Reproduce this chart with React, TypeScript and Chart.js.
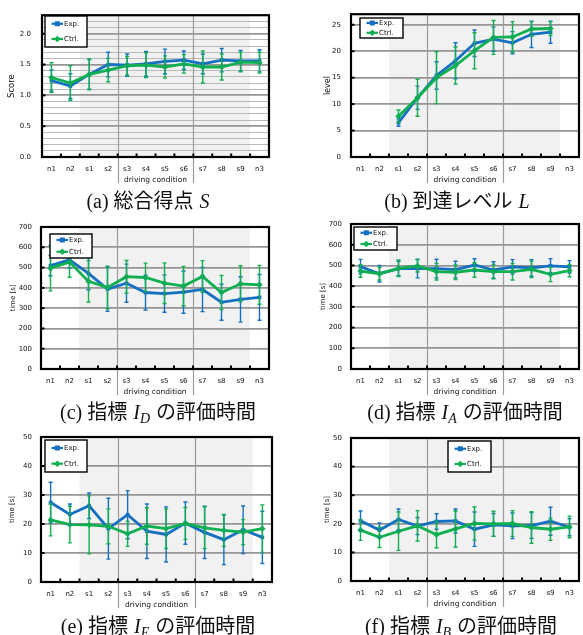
import React, { useEffect, useRef } from 'react';
import { Chart, registerables } from 'chart.js';

Chart.register(...registerables);

const W = 583;
const H = 635;

// ---------- data ----------
const conditions = ['n1', 'n2', 's1', 's2', 's3', 's4', 's5', 's6', 's7', 's8', 's9', 'n3'];
const shadeFrom = 's1';
const shadeTo = 's9';
const groupStarts = ['s3', 's7'];
const seriesNames = ['Exp.', 'Ctrl.'];
const xTitle = 'driving condition';

const scoreExp = [1.24, 1.15, 1.34, 1.5, 1.49, 1.51, 1.55, 1.57, 1.51, 1.57, 1.56, 1.56];
const scoreExpErr = [0.17, 0.2, 0.24, 0.2, 0.18, 0.2, 0.2, 0.15, 0.16, 0.19, 0.17, 0.18];
const scoreCtrl = [1.29, 1.2, 1.34, 1.41, 1.48, 1.49, 1.46, 1.51, 1.46, 1.46, 1.54, 1.53];
const scoreCtrlErr = [0.24, 0.28, 0.25, 0.19, 0.15, 0.2, 0.18, 0.15, 0.26, 0.21, 0.16, 0.17];

const levelExp = [null, null, 6.5, 11.2, 15.4, 18.2, 21.5, 22.3, 21.6, 23.2, 23.6, null];
const levelExpErr = [0, 0, 0.7, 2.2, 2.6, 3.4, 2.5, 2.3, 2.1, 2.5, 2.1, 0];
const levelCtrl = [null, null, 7.7, 11.2, 15.0, 17.3, 20.1, 22.6, 22.7, 24.2, 24.3, null];
const levelCtrlErr = [0, 0, 1.2, 3.5, 4.9, 3.5, 3.4, 3.2, 2.9, 1.4, 1.3, 0];

const idExp = [510, 538, 471, 394, 423, 377, 372, 379, 392, 329, 343, 353];
const idExpErr = [50, 40, 80, 110, 94, 86, 92, 104, 109, 89, 112, 113];
const idCtrl = [497, 527, 432, 402, 455, 451, 423, 409, 456, 377, 420, 415];
const idCtrlErr = [112, 75, 102, 105, 80, 71, 100, 97, 78, 84, 89, 96];

const iaExp = [494, 460, 485, 485, 485, 480, 502, 478, 493, 488, 498, 493];
const iaExpErr = [35, 40, 35, 45, 45, 40, 30, 40, 35, 40, 35, 30];
const iaCtrl = [473, 460, 486, 498, 470, 467, 478, 470, 470, 481, 457, 475];
const iaCtrlErr = [30, 30, 40, 30, 40, 35, 35, 35, 40, 40, 35, 30];

const ieExp = [27.4, 23.3, 26.3, 18.4, 23.2, 17.5, 16.4, 20.3, 17.1, 14.6, 18.0, 15.4];
const ieExpErr = [7, 3.6, 4.4, 10.5, 8.3, 9.4, 9.5, 7.3, 9, 8.6, 8.2, 9];
const ieCtrl = [21.4, 19.8, 19.7, 19.2, 16.6, 19.3, 18.4, 20.2, 18.7, 17.8, 17.2, 18.4];
const ieCtrlErr = [5.5, 6.3, 10, 6, 4.3, 6.3, 6.8, 5.5, 7.2, 5.5, 4.3, 8.2];

const ibExp = [21.1, 17.8, 21.5, 19.2, 20.8, 21.0, 18.1, 19.6, 19.3, 19.4, 20.9, 18.8];
const ibExpErr = [3.4, 2.5, 3.7, 3, 2.7, 4.2, 6, 4, 4.5, 4.5, 4.9, 3];
const ibCtrl = [17.8, 15.3, 17.4, 19.3, 16.2, 18.2, 20.1, 20.0, 20.1, 18.7, 18.1, 18.9];
const ibCtrlErr = [3.6, 3.6, 6.7, 5.3, 4.6, 6.3, 5.8, 4.4, 4.5, 5.5, 3.9, 3.8];

const captionTags = ['(a)', '(b)', '(c)', '(d)', '(e)', '(f)'];
const captionPre = ['総合得点', '到達レベル', '指標', '指標', '指標', '指標'];
const captionSym = ['S', 'L', 'I', 'I', 'I', 'I'];
const captionSub = ['', '', 'D', 'A', 'E', 'B'];
const captionPost = ['', '', 'の評価時間', 'の評価時間', 'の評価時間', 'の評価時間'];

// ---------- styles / layout ----------
const BLUE = '#1470c0';
const GREEN = '#10b050';
const FONT = '"DejaVu Sans", "Noto Sans", sans-serif';
const TEXT = '#111';
const XH = 30;

type Box = { l: number; t: number; r: number; b: number };
type Panel = {
  id: string;
  exp: (number | null)[];
  expErr: number[];
  ctrl: (number | null)[];
  ctrlErr: number[];
  yMax: number;
  yStep: number;
  yLabelStep: number;
  decimals: number;
  yTitle: string;
  yTitleSize: number;
  yTitleX: number;
  yPad: number;
  box: Box;
  legend: { x: number; y: number; w: number; h: number };
};

const panels: Panel[] = [
  {
    id: 'a', exp: scoreExp, expErr: scoreExpErr, ctrl: scoreCtrl, ctrlErr: scoreCtrlErr,
    yMax: 2.3, yStep: 0.1, yLabelStep: 0.5, decimals: 1, yTitle: 'Score', yTitleSize: 8.5, yTitleX: 12, yPad: 11,
    box: { l: 42, t: 13, r: 269, b: 157 }, legend: { x: 45, y: 16, w: 42, h: 31 },
  },
  {
    id: 'b', exp: levelExp, expErr: levelExpErr, ctrl: levelCtrl, ctrlErr: levelCtrlErr,
    yMax: 27, yStep: 5, yLabelStep: 5, decimals: 0, yTitle: 'level', yTitleSize: 8, yTitleX: 328, yPad: 10,
    box: { l: 351, t: 13, r: 582, b: 157 }, legend: { x: 360, y: 18, w: 43, h: 20 },
  },
  {
    id: 'c', exp: idExp, expErr: idExpErr, ctrl: idCtrl, ctrlErr: idCtrlErr,
    yMax: 700, yStep: 100, yLabelStep: 100, decimals: 0, yTitle: 'time [s]', yTitleSize: 7, yTitleX: 13, yPad: 9,
    box: { l: 41, t: 227, r: 269, b: 369 }, legend: { x: 50, y: 234, w: 42, h: 24 },
  },
  {
    id: 'd', exp: iaExp, expErr: iaExpErr, ctrl: iaCtrl, ctrlErr: iaCtrlErr,
    yMax: 700, yStep: 100, yLabelStep: 100, decimals: 0, yTitle: 'time [s]', yTitleSize: 7, yTitleX: 323, yPad: 9,
    box: { l: 351, t: 224, r: 582, b: 369 }, legend: { x: 354, y: 227, w: 43, h: 23 },
  },
  {
    id: 'e', exp: ieExp, expErr: ieExpErr, ctrl: ieCtrl, ctrlErr: ieCtrlErr,
    yMax: 50, yStep: 10, yLabelStep: 10, decimals: 0, yTitle: 'time [s]', yTitleSize: 7, yTitleX: 12, yPad: 9,
    box: { l: 41, t: 437, r: 272, b: 582 }, legend: { x: 45, y: 440, w: 42, h: 32 },
  },
  {
    id: 'f', exp: ibExp, expErr: ibExpErr, ctrl: ibCtrl, ctrlErr: ibCtrlErr,
    yMax: 50, yStep: 10, yLabelStep: 10, decimals: 0, yTitle: 'time [s]', yTitleSize: 7, yTitleX: 327, yPad: 9,
    box: { l: 351, t: 438, r: 582, b: 581 }, legend: { x: 448, y: 441, w: 43, h: 31 },
  },
];

const captionPos = [
  { cx: 148, cy: 201 },
  { cx: 457, cy: 201 },
  { cx: 158, cy: 412 },
  { cx: 465, cy: 412 },
  { cx: 158, cy: 626 },
  { cx: 461, cy: 626 },
];

function isMajor(p: Panel, v: number) {
  const q = v / p.yLabelStep;
  return Math.abs(q - Math.round(q)) < 1e-6;
}

function drawMarker(ctx: CanvasRenderingContext2D, kind: number, x: number, y: number) {
  ctx.beginPath();
  if (kind === 0) {
    ctx.rect(x - 2.5, y - 2.5, 5, 5);
  } else {
    ctx.moveTo(x, y - 3.3);
    ctx.lineTo(x + 3.3, y);
    ctx.lineTo(x, y + 3.3);
    ctx.lineTo(x - 3.3, y);
    ctx.closePath();
  }
  ctx.fill();
}

function makeDecor(p: Panel) {
  const n = conditions.length;
  const edge = (chart: any, i: number) => {
    const a = chart.chartArea;
    const x = chart.scales.x;
    if (i <= 0) return a.left;
    if (i >= n) return a.right;
    return (x.getPixelForTick(i - 1) + x.getPixelForTick(i)) / 2;
  };
  return {
    id: 'decor_' + p.id,
    beforeDraw(chart: any) {
      const { ctx, chartArea: a } = chart;
      const i0 = conditions.indexOf(shadeFrom);
      const i1 = conditions.indexOf(shadeTo) + 1;
      const xs = edge(chart, i0);
      const xe = edge(chart, i1);
      ctx.save();
      ctx.fillStyle = '#f1f1f1';
      ctx.fillRect(xs, a.top, xe - xs, a.bottom - a.top);
      ctx.restore();
    },
    beforeDatasetsDraw(chart: any) {
      const { ctx, chartArea: a } = chart;
      ctx.save();
      ctx.strokeStyle = '#9c9c9c';
      ctx.lineWidth = 1.2;
      groupStarts.forEach((name) => {
        const xx = Math.round(edge(chart, conditions.indexOf(name))) + 0.5;
        ctx.beginPath();
        ctx.moveTo(xx, a.top);
        ctx.lineTo(xx, a.bottom + 26);
        ctx.stroke();
      });
      ctx.restore();
    },
    afterDatasetsDraw(chart: any) {
      const { ctx, chartArea: a, scales } = chart;
      const y = scales.y;
      ctx.save();
      // error bars
      [0, 1].forEach((di) => {
        const ds = chart.data.datasets[di];
        const meta = chart.getDatasetMeta(di);
        const errs: number[] = ds.errors;
        ctx.strokeStyle = ds.borderColor;
        ctx.lineWidth = 1.4;
        ds.data.forEach((v: number | null, i: number) => {
          if (v == null) return;
          const e = errs[i];
          if (!e) return;
          const px = meta.data[i].x;
          const yt = y.getPixelForValue(v + e);
          const yb = y.getPixelForValue(v - e);
          ctx.beginPath();
          ctx.moveTo(px, yt);
          ctx.lineTo(px, yb);
          ctx.moveTo(px - 2, yt);
          ctx.lineTo(px + 2, yt);
          ctx.moveTo(px - 2, yb);
          ctx.lineTo(px + 2, yb);
          ctx.stroke();
        });
      });
      // tick dots
      ctx.fillStyle = '#000';
      for (let i = 1; i < n; i++) {
        const xx = edge(chart, i);
        ctx.fillRect(xx - 1, a.bottom - 3.5, 2, 3);
      }
      y.ticks.forEach((t: any) => {
        if (!isMajor(p, t.value)) return;
        const py = y.getPixelForValue(t.value);
        ctx.fillRect(a.left, py - 1, 3.5, 2);
      });
      // border
      ctx.strokeStyle = '#000';
      ctx.lineWidth = 2.2;
      ctx.strokeRect(a.left, a.top, a.right - a.left, a.bottom - a.top);
      ctx.restore();
    },
    afterDraw(chart: any) {
      const { ctx } = chart;
      const L = p.legend;
      ctx.save();
      ctx.fillStyle = '#fff';
      ctx.fillRect(L.x, L.y, L.w, L.h);
      ctx.strokeStyle = '#000';
      ctx.lineWidth = 1.4;
      ctx.strokeRect(L.x, L.y, L.w, L.h);
      const rows = [L.y + L.h * 0.25, L.y + L.h * 0.74];
      [0, 1].forEach((di) => {
        const ds = chart.data.datasets[di];
        const ry = rows[di];
        ctx.strokeStyle = ds.borderColor;
        ctx.fillStyle = ds.borderColor;
        ctx.lineWidth = 2.2;
        ctx.beginPath();
        ctx.moveTo(L.x + 6.5, ry);
        ctx.lineTo(L.x + 18, ry);
        ctx.stroke();
        drawMarker(ctx, di, L.x + 12.3, ry);
        ctx.fillStyle = TEXT;
        ctx.font = '7px ' + FONT;
        ctx.textBaseline = 'middle';
        ctx.textAlign = 'left';
        ctx.fillText(seriesNames[di], L.x + 19, ry + 0.5);
      });
      ctx.restore();
    },
  };
}

function makeConfig(p: Panel): any {
  const lh = p.yTitleSize * 1.2;
  const yLeft = p.yTitleX - lh / 2;
  const yW = p.box.l - yLeft;
  return {
    type: 'line',
    data: {
      labels: conditions,
      datasets: [
        {
          label: seriesNames[0], data: p.exp, errors: p.expErr,
          borderColor: BLUE, backgroundColor: BLUE, borderWidth: 2.8,
          pointStyle: 'rect', pointRadius: 2.6, pointBorderWidth: 0, order: 1, tension: 0,
        },
        {
          label: seriesNames[1], data: p.ctrl, errors: p.ctrlErr,
          borderColor: GREEN, backgroundColor: GREEN, borderWidth: 2.8,
          pointStyle: 'rectRot', pointRadius: 3.2, pointBorderWidth: 0, order: 0, tension: 0,
        },
      ],
    },
    options: {
      responsive: false,
      animation: false,
      events: [],
      layout: {
        padding: { left: yLeft, top: p.box.t, right: W - p.box.r, bottom: H - p.box.b - XH },
      },
      plugins: { legend: { display: false }, tooltip: { enabled: false } },
      scales: {
        x: {
          type: 'category',
          offset: true,
          grid: { display: false, drawTicks: false },
          border: { display: false },
          ticks: {
            font: { family: FONT, size: 7 }, color: TEXT, padding: 8,
            maxRotation: 0, minRotation: 0, autoSkip: false,
          },
          title: {
            display: true, text: xTitle, color: TEXT,
            font: { family: FONT, size: 7.5 }, padding: { top: 0, bottom: 2.8 },
          },
          afterFit: (s: any) => { s.height = XH; },
        },
        y: {
          type: 'linear',
          min: 0,
          max: p.yMax,
          grid: {
            drawTicks: false,
            color: (c: any) => (isMajor(p, c.tick.value) ? '#959595' : '#b9b9b9'),
            lineWidth: (c: any) => (isMajor(p, c.tick.value) ? 1.7 : 1),
          },
          border: { display: false },
          ticks: {
            stepSize: p.yStep, includeBounds: false, autoSkip: false, padding: p.yPad,
            font: { family: FONT, size: 7 }, color: TEXT,
            callback: (v: number) => (isMajor(p, v) ? Number(v).toFixed(p.decimals) : ''),
          },
          title: {
            display: true, text: p.yTitle, color: TEXT,
            font: { family: FONT, size: p.yTitleSize }, padding: 0,
          },
          afterFit: (s: any) => { s.width = yW; },
        },
      },
    },
    plugins: [makeDecor(p)],
  };
}

export default function App() {
  const refs = useRef<(HTMLCanvasElement | null)[]>([]);
  useEffect(() => {
    const charts = panels.map((p, i) => new Chart(refs.current[i] as HTMLCanvasElement, makeConfig(p)));
    return () => charts.forEach((c) => c.destroy());
  }, []);
  return (
    <div style={{ position: 'fixed', left: 0, top: 0, width: W, height: H, background: '#fff', overflow: 'hidden' }}>
      {panels.map((p, i) => (
        <canvas
          key={p.id}
          ref={(el) => { refs.current[i] = el; }}
          width={W}
          height={H}
          style={{ position: 'absolute', left: 0, top: 0, width: W, height: H }}
        />
      ))}
      {captionPos.map((c, i) => (
        <div
          key={'cap' + i}
          style={{
            position: 'absolute', left: c.cx - 150, top: c.cy - 12, width: 300, height: 24,
            textAlign: 'center', whiteSpace: 'nowrap', color: '#111',
            fontFamily: '"Liberation Serif", "Noto Sans CJK JP", serif', fontSize: 20, lineHeight: '24px',
          }}
        >
          {captionTags[i]} {captionPre[i]}
          <i style={{ marginLeft: '0.3em' }}>{captionSym[i]}</i>
          {captionSub[i] ? (
            <sub style={{ fontSize: '0.7em', verticalAlign: '-0.3em', lineHeight: 0 }}>
              <i>{captionSub[i]}</i>
            </sub>
          ) : null}
          {captionPost[i] ? <span style={{ marginLeft: '0.3em' }}>{captionPost[i]}</span> : null}
        </div>
      ))}
    </div>
  );
}
